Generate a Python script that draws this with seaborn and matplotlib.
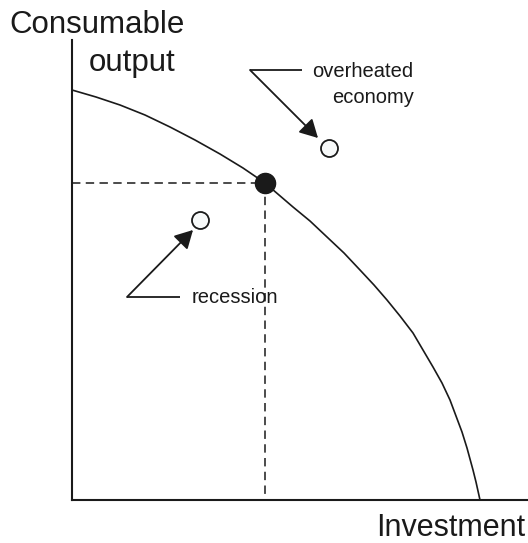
import matplotlib
matplotlib.use("Agg")
import matplotlib.pyplot as plt
import seaborn as sns
import pandas as pd

# PPF curve (investment, consumable output)
curve_x = [0, 24, 48, 73, 98, 123, 148, 171, 193, 207, 221, 238, 255, 272, 288, 302,
           315, 328, 341, 351, 361, 370, 378, 384, 390, 395, 398, 401, 404, 406, 408]
curve_y = [410, 403, 395, 385, 373, 360, 346, 332, 317, 305, 293, 279, 263, 247, 230, 215,
           200, 184, 167, 150, 133, 117, 100, 84, 68, 52, 41, 30, 18, 9, 0]

# points
eq_x, eq_y = 193, 317
over_x, over_y = 257, 352
rec_x, rec_y = 128, 280

labels = {"x": "Investment", "y1": "Consumable", "y2": "output",
          "over1": "overheated", "over2": "economy", "rec": "recession"}

sns.set_theme(style="white")
plt.rcParams["font.family"] = ["Liberation Sans", "DejaVu Sans"]

W, H = 528, 543
fig = plt.figure(figsize=(W / 100, H / 100), dpi=100)
ax = fig.add_axes([72 / W, 43 / H, 456 / W, 460 / H])
ax.set_xlim(0, 456)
ax.set_ylim(0, 460)

df = pd.DataFrame({"x": curve_x, "y": curve_y})
sns.lineplot(data=df, x="x", y="y", sort=False, color="#1a1a1a", lw=1.2, ax=ax)

# dashed guides
ax.plot([0, eq_x], [eq_y, eq_y], color="#1a1a1a", lw=1.1, ls=(0, (5.5, 3.5)))
ax.plot([eq_x, eq_x], [eq_y, 0], color="#1a1a1a", lw=1.1, ls=(0, (5.5, 3.5)))

# annotation leaders
ax.plot([230, 178], [430, 430], color="#1a1a1a", lw=1.3, solid_capstyle="butt")
ax.annotate("", xy=(246, 362), xytext=(178, 430),
            arrowprops=dict(arrowstyle="-|>,head_length=0.55,head_width=0.3", color="#1a1a1a", lw=1.3,
                            mutation_scale=20, shrinkA=0, shrinkB=0))
ax.plot([108, 55], [203, 203], color="#1a1a1a", lw=1.3, solid_capstyle="butt")
ax.annotate("", xy=(121, 270), xytext=(55, 203),
            arrowprops=dict(arrowstyle="-|>,head_length=0.55,head_width=0.3", color="#1a1a1a", lw=1.3,
                            mutation_scale=20, shrinkA=0, shrinkB=0))

pts = pd.DataFrame({"x": [over_x, rec_x], "y": [over_y, rec_y]})
sns.scatterplot(data=pts, x="x", y="y", s=150, color="#f7f9f9",
                edgecolor="#1a1a1a", linewidth=1.3, ax=ax, zorder=5)
ax.plot([eq_x], [eq_y], "o", ms=14.5, color="#1a1a1a", zorder=6)

ax.text(240, 423, labels["over1"], fontsize=14.5, ha="left", va="baseline", color="#1a1a1a")
ax.text(342, 397, labels["over2"], fontsize=14.5, ha="right", va="baseline", color="#1a1a1a")
ax.text(120, 197, labels["rec"], fontsize=14.5, ha="left", va="baseline", color="#1a1a1a")

fig.text(97 / W, 1 - 33 / H, labels["y1"], fontsize=22.5, ha="center", va="baseline", color="#1a1a1a")
fig.text(132 / W, 1 - 71 / H, labels["y2"], fontsize=22.5, ha="center", va="baseline", color="#1a1a1a")
fig.text(525 / W, 1 - 536 / H, labels["x"], fontsize=22, ha="right", va="baseline", color="#1a1a1a")

ax.set_xticks([])
ax.set_yticks([])
ax.set_xlabel("")
ax.set_ylabel("")
for s in ["top", "right"]:
    ax.spines[s].set_visible(False)
for s in ["left", "bottom"]:
    ax.spines[s].set_color("#1a1a1a")
    ax.spines[s].set_linewidth(1.5)
ax.patch.set_alpha(0)

fig.savefig("out.png", dpi=100)
